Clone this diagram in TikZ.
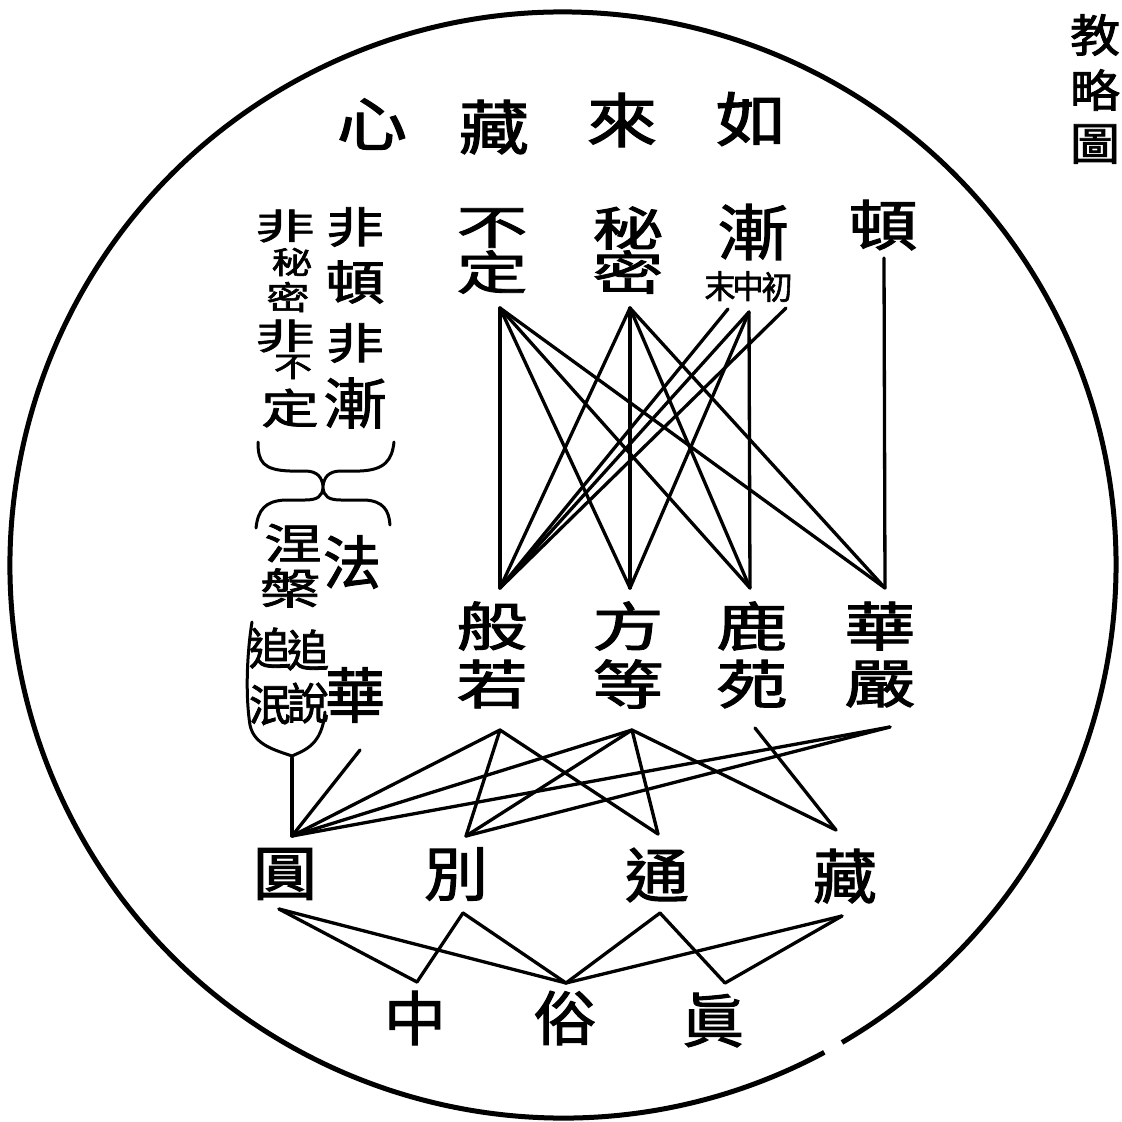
\documentclass[tikz,border=0pt]{standalone}
\usepackage{fontspec}
\usepackage{graphicx}
\newfontfamily\cjk[FakeBold=1.8]{Noto Sans CJK TC}
\newcommand\zi[4]{{\fontsize{#1}{#1}\selectfont\scalebox{#2}[#3]{#4}}}
\begin{document}
\begin{tikzpicture}[x=1pt,y=-1pt,
  ln/.style={line width=3.3pt,line cap=round},
  rim/.style={line width=5pt},
  brc/.style={line width=3pt,line cap=round},
  ch/.style={inner sep=0pt,font=\cjk}]
\useasboundingbox (0,0) rectangle (1122,1122);
\fill[white] (0,0) rectangle (1122,1122);
% outer circle with a small gap at the lower right
\draw[rim] (563,565) ++(61.8:553) arc[start angle=61.8,end angle=419.7,radius=553];
% title at top right
\node[ch] (ti1) at (1095,35) {\zi{50}{1.0}{0.9}{教}};
\node[ch] (ti2) at (1095,90) {\zi{50}{1.0}{0.9}{略}};
\node[ch] (ti3) at (1095,144) {\zi{50}{1.0}{0.9}{圖}};
% top row
\node[ch] (r1) at (751,119) {\zi{64}{1.1}{0.92}{如}};
\node[ch] (r2) at (622,120) {\zi{64}{1.1}{0.92}{來}};
\node[ch] (r3) at (494,127) {\zi{64}{1.1}{0.92}{藏}};
\node[ch] (r4) at (372,124) {\zi{64}{1.1}{0.92}{心}};
% second row
\node[ch] (bu) at (492,228) {\zi{62}{1.15}{0.75}{不}};
\node[ch] (ding) at (492,272) {\zi{62}{1.15}{0.75}{定}};
\node[ch] (mi1) at (628,228) {\zi{62}{1.15}{0.75}{秘}};
\node[ch] (mi2) at (628,272) {\zi{62}{1.15}{0.75}{密}};
\node[ch] (jian) at (753,232) {\zi{64}{1.12}{0.95}{漸}};
\node[ch] (mo) at (720,286) {\zi{31}{1}{1.05}{末}};
\node[ch] (zhs) at (748,286) {\zi{31}{1}{1.05}{中}};
\node[ch] (chu) at (777,287) {\zi{31}{1}{1.05}{初}};
\node[ch] (dun) at (883,225) {\zi{62}{1.12}{0.88}{頓}};
% left columns
\node[ch] (a1) at (355,227) {\zi{50}{1.15}{0.85}{非}};
\node[ch] (a2) at (355,282) {\zi{52}{1.15}{0.9}{頓}};
\node[ch] (a3) at (355,343) {\zi{50}{1.15}{0.85}{非}};
\node[ch] (a4) at (355,403) {\zi{58}{1.1}{0.95}{漸}};
\node[ch] (b1) at (285,226) {\zi{44}{1.35}{0.8}{非}};
\node[ch] (b2) at (292,262) {\zi{34}{1.2}{0.9}{秘}};
\node[ch] (b3) at (288,297) {\zi{36}{1.2}{0.9}{密}};
\node[ch] (b4) at (285,336) {\zi{44}{1.35}{0.8}{非}};
\node[ch] (b5) at (293,367) {\zi{32}{1.2}{0.9}{不}};
\node[ch] (b6) at (290,408) {\zi{46}{1.25}{0.9}{定}};
% braces
\draw[brc] (258,442) .. controls (258,462) and (263,470) .. (290,471) -- (305,471)
  .. controls (318,471) and (322,478) .. (323,486)
  .. controls (324,478) and (328,471) .. (341,471) -- (360,471)
  .. controls (385,470) and (392,460) .. (394,442);
\draw[brc] (256,528) .. controls (258,510) and (265,501) .. (285,500) -- (305,500)
  .. controls (318,500) and (322,496) .. (323,488)
  .. controls (324,496) and (328,500) .. (341,500) -- (365,500)
  .. controls (383,501) and (389,510) .. (390,525);
\node[ch] (nie) at (293,543) {\zi{50}{1.15}{0.85}{涅}};
\node[ch] (pan) at (290,588) {\zi{50}{1.2}{0.85}{槃}};
\node[ch] (fa) at (352,562) {\zi{58}{1}{1}{法}};
\node[ch] (hua1) at (355,695) {\zi{60}{1}{1}{華}};
\node[ch] (z1) at (270,648) {\zi{42}{1}{1.05}{追}};
\node[ch] (z2) at (270,705) {\zi{42}{1}{1.05}{泯}};
\node[ch] (z3) at (308,650) {\zi{42}{1}{1.05}{追}};
\node[ch] (z4) at (308,703) {\zi{42}{1}{1.05}{說}};
\draw[brc] (252,622) .. controls (246,660) and (246,700) .. (250,725)
  .. controls (254,745) and (275,750) .. (292,756)
  .. controls (305,750) and (322,745) .. (325,712);
% sutra row
\node[ch] (ban) at (492,626) {\zi{62}{1.15}{0.85}{般}};
\node[ch] (ruo) at (492,684) {\zi{62}{1.15}{0.85}{若}};
\node[ch] (fang) at (628,626) {\zi{62}{1.15}{0.85}{方}};
\node[ch] (deng) at (628,684) {\zi{62}{1.15}{0.85}{等}};
\node[ch] (lu) at (752,626) {\zi{62}{1.15}{0.85}{鹿}};
\node[ch] (yuan) at (752,684) {\zi{62}{1.15}{0.85}{苑}};
\node[ch] (hua) at (880,626) {\zi{62}{1.15}{0.85}{華}};
\node[ch] (yan) at (880,684) {\zi{62}{1.15}{0.85}{嚴}};
% four teachings
\node[ch] (yu) at (285,874) {\zi{64}{1}{0.92}{圓}};
\node[ch] (bie) at (456,874) {\zi{64}{1}{0.92}{別}};
\node[ch] (tong) at (657,875) {\zi{64}{1}{0.92}{通}};
\node[ch] (zang) at (845,876) {\zi{64}{1}{0.92}{藏}};
% three truths
\node[ch] (zhong) at (415,1018) {\zi{62}{1}{0.95}{中}};
\node[ch] (su) at (565,1018) {\zi{62}{1}{0.95}{俗}};
\node[ch] (zhen) at (713,1020) {\zi{62}{1}{0.95}{眞}};
% connection points
\coordinate (BDb) at (500,308);
\coordinate (MMb) at (630,308);
\coordinate (Mo) at (728,309);
\coordinate (Zh) at (749,312);
\coordinate (Ch) at (786,308);
\coordinate (Dt) at (884,258);
\coordinate (BRt) at (500,588);
\coordinate (FDt) at (630,588);
\coordinate (LYt) at (750,588);
\coordinate (HYt) at (885,588);
\coordinate (BRb) at (500,730);
\coordinate (FDb) at (632,730);
\coordinate (LYb) at (755,728);
\coordinate (HYb) at (890,727);
\coordinate (HUb) at (360,750);
\coordinate (NPb) at (292,758);
\coordinate (Yt) at (292,836);
\coordinate (Bt) at (466,836);
\coordinate (Tt) at (658,834);
\coordinate (Zt) at (836,830);
\coordinate (Yb) at (279,909);
\coordinate (Bb) at (463,913);
\coordinate (Tb) at (660,913);
\coordinate (Zb) at (842,916);
\coordinate (Zc) at (417,982);
\coordinate (Su) at (566,983);
\coordinate (Zn) at (725,983);
% upper connectors
\draw[ln] (BDb) -- (BRt);
\draw[ln] (BDb) -- (FDt);
\draw[ln] (BDb) -- (LYt);
\draw[ln] (BDb) -- (HYt);
\draw[ln] (MMb) -- (BRt);
\draw[ln] (MMb) -- (FDt);
\draw[ln] (MMb) -- (LYt);
\draw[ln] (MMb) -- (HYt);
\draw[ln] (Mo) -- (BRt);
\draw[ln] (Zh) -- (BRt);
\draw[ln] (Zh) -- (FDt);
\draw[ln] (Zh) -- (LYt);
\draw[ln] (Ch) -- (BRt);
\draw[ln] (Dt) -- (HYt);
% middle connectors
\draw[ln] (BRb) -- (Yt);
\draw[ln] (BRb) -- (Bt);
\draw[ln] (BRb) -- (Tt);
\draw[ln] (FDb) -- (Yt);
\draw[ln] (FDb) -- (Bt);
\draw[ln] (FDb) -- (Tt);
\draw[ln] (FDb) -- (Zt);
\draw[ln] (LYb) -- (Zt);
\draw[ln] (HYb) -- (Yt);
\draw[ln] (HYb) -- (Bt);
\draw[ln] (HUb) -- (Yt);
\draw[ln] (NPb) -- (Yt);
% lower connectors
\draw[ln] (Yb) -- (Zc);
\draw[ln] (Yb) -- (Su);
\draw[ln] (Bb) -- (Zc);
\draw[ln] (Bb) -- (Su);
\draw[ln] (Tb) -- (Su);
\draw[ln] (Tb) -- (Zn);
\draw[ln] (Zb) -- (Su);
\draw[ln] (Zb) -- (Zn);
\end{tikzpicture}
\end{document}
